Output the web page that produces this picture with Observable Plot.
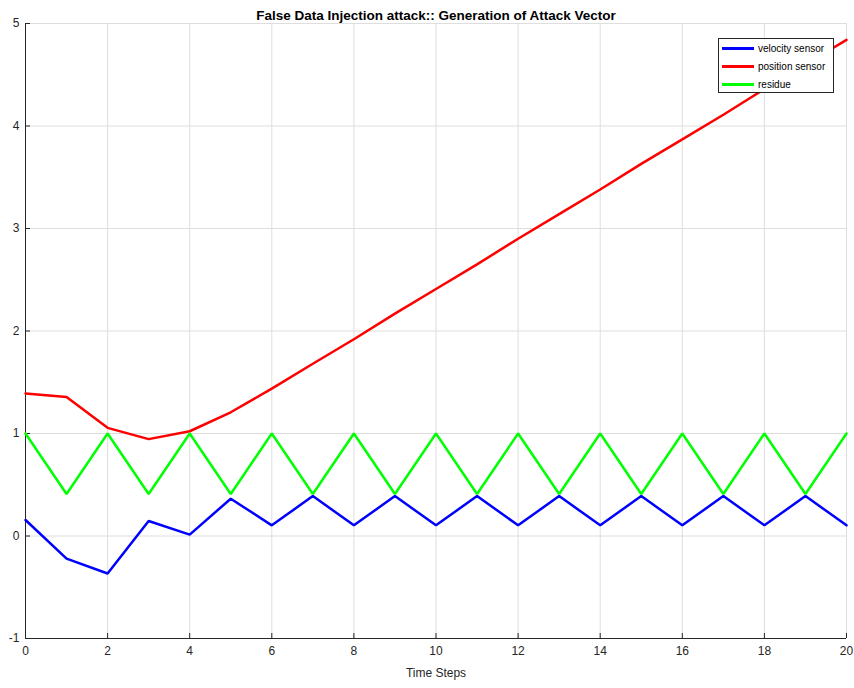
<!DOCTYPE html>
<html><head><meta charset="utf-8">
<script src="https://cdn.jsdelivr.net/npm/d3@7"></script>
<script src="https://cdn.jsdelivr.net/npm/@observablehq/plot@0.6"></script>
<style>
body{margin:0;background:#fff;}
#wrap{position:relative;width:854px;height:688px;font-family:"Liberation Sans",Arial,sans-serif;}
#legend{position:absolute;left:718px;top:38px;width:116px;height:55px;border:1px solid #262626;background:#fff;box-sizing:border-box;font-size:10px;color:#000;}
.item{position:absolute;left:3px;height:12px;display:flex;align-items:center;}
.item span.l{display:inline-block;width:32px;height:3px;margin-right:4px;}
</style></head>
<body><div id="wrap"><div id="legend"></div></div>
<script>
const timeSteps = d3.range(0, 21);
const velocity = [0.156, -0.22, -0.366, 0.146, 0.013, 0.364, 0.104, 0.39, 0.104, 0.39, 0.104, 0.39, 0.104, 0.39, 0.104, 0.39, 0.104, 0.39, 0.104, 0.39, 0.104];
const position = [1.39, 1.357, 1.055, 0.945, 1.022, 1.207, 1.438, 1.68, 1.92, 2.17, 2.41, 2.65, 2.90, 3.14, 3.38, 3.63, 3.87, 4.11, 4.36, 4.60, 4.84];
const residue = [1, 0.41, 1, 0.41, 1, 0.41, 1, 0.41, 1, 0.41, 1, 0.41, 1, 0.41, 1, 0.41, 1, 0.41, 1, 0.41, 1];
const seriesNames = ["velocity sensor", "position sensor", "residue"];
const seriesColors = ["#0000ff", "#ff0000", "#00ff00"];
const xTicks = d3.range(0, 21, 2);
const yTicks = [-1, 0, 1, 2, 3, 4, 5];
const titleText = "False Data Injection attack:: Generation of Attack Vector";
const xLabel = "Time Steps";

const rows = [];
[velocity, position, residue].forEach((arr, i) => arr.forEach((v, j) => rows.push({t: timeSteps[j], v, s: seriesNames[i]})));

const plot = Plot.plot({
  width: 854, height: 688,
  marginLeft: 25, marginRight: 8, marginTop: 23, marginBottom: 50,
  style: {fontFamily: '"Liberation Sans",Arial,sans-serif', fontSize: "12px", color: "#262626", background: "#fff"},
  x: {domain: [0, 20]},
  y: {domain: [-1, 5]},
  color: {domain: seriesNames, range: seriesColors},
  marks: [
    Plot.gridX(xTicks, {stroke: "#dedede", strokeOpacity: 1}),
    Plot.gridY(yTicks, {stroke: "#dedede", strokeOpacity: 1}),
    Plot.axisX(xTicks, {tickSize: -5, tickPadding: 13, label: null, fontSize: 12, stroke: "#262626", tickFormat: d => String(d)}),
    Plot.axisY(yTicks, {tickSize: -5, tickPadding: 11, label: null, fontSize: 12, stroke: "#262626", tickFormat: d => String(d)}),
    Plot.ruleY([-1], {stroke: "#262626"}),
    Plot.ruleX([0], {stroke: "#262626"}),
    Plot.line(rows, {x: "t", y: "v", z: "s", stroke: "s", strokeWidth: 2.5, strokeLinejoin: "miter"}),
    Plot.text([titleText], {frameAnchor: "top", dy: -13, fontWeight: "bold", fontSize: 13.5, fill: "#000"}),
    Plot.text([xLabel], {frameAnchor: "bottom", dy: 38, fontSize: 12, fill: "#262626"})
  ]
});
document.getElementById("wrap").prepend(plot);
const lg = document.getElementById("legend");
seriesNames.forEach((n, i) => {
  const d = document.createElement("div");
  d.className = "item";
  d.style.top = (3 + i * 18) + "px";
  d.innerHTML = `<span class="l" style="background:${seriesColors[i]}"></span><span>${n}</span>`;
  lg.appendChild(d);
});
</script></body></html>
